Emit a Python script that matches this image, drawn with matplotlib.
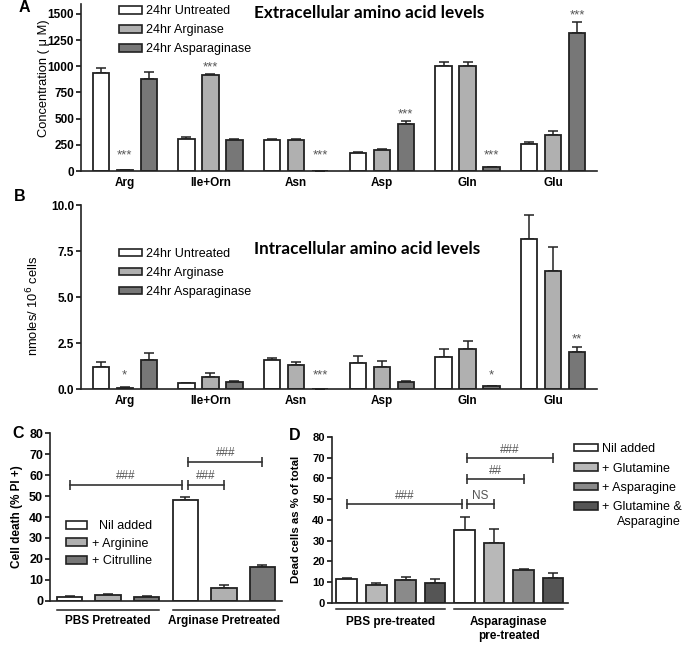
import numpy as np
import matplotlib
matplotlib.use("Agg")
import matplotlib.pyplot as plt
import matplotlib.transforms as mtransforms
from matplotlib.patches import Patch

plt.rcParams['font.family'] = ['Liberation Sans', 'DejaVu Sans']

# Panel A / B - amino acids
amino_acids = ['Arg', 'Ile+Orn', 'Asn', 'Asp', 'Gln', 'Glu']
ab_series = ['24hr Untreated', '24hr Arginase', '24hr Asparaginase']

a_untreated = [940, 310, 295, 175, 1000, 255]
a_untreated_err = [45, 15, 10, 5, 40, 22]
a_arginase = [5, 920, 300, 205, 1005, 345]
a_arginase_err = [0, 5, 3, 5, 38, 33]
a_asparaginase = [880, 295, 0, 445, 35, 1320]
a_asparaginase_err = [65, 15, 0, 35, 5, 108]
a_stars = {(0, 1): '***', (1, 1): '***', (2, 2): '***', (3, 2): '***', (4, 2): '***', (5, 2): '***'}

b_untreated = [1.2, 0.3, 1.55, 1.4, 1.75, 8.15]
b_untreated_err = [0.25, 0.05, 0.12, 0.4, 0.42, 1.3]
b_arginase = [0.08, 0.65, 1.28, 1.2, 2.2, 6.4]
b_arginase_err = [0.03, 0.2, 0.19, 0.34, 0.42, 1.3]
b_asparaginase = [1.58, 0.38, 0.02, 0.38, 0.16, 2.0]
b_asparaginase_err = [0.38, 0.08, 0.0, 0.04, 0.03, 0.3]
b_stars = {(0, 1): '*', (2, 2): '***', (4, 2): '*', (5, 2): '**'}

# Panel C - cell death
c_groups = ['PBS Pretreated', 'Arginase Pretreated']
c_series = ['  Nil added', '+ Arginine', '+ Citrulline']
c_nil = [2.0, 48.3]
c_nil_err = [0.3, 1.2]
c_arginine = [2.7, 6.3]
c_arginine_err = [0.3, 1.0]
c_citrulline = [2.0, 16.1]
c_citrulline_err = [0.2, 1.1]
c_brackets = [(0, 3, 55.5, '###'), (3, 4, 55.5, '###'), (3, 5, 66.5, '###')]

# Panel D - dead cells
d_groups = ['PBS pre-treated', 'Asparaginase\npre-treated']
d_series = ['Nil added', '+ Glutamine', '+ Asparagine', '+ Glutamine &']
d_nil = [11.5, 35.1]
d_nil_err = [0.2, 6.3]
d_glutamine = [8.7, 28.8]
d_glutamine_err = [0.8, 6.8]
d_asparagine = [11.0, 16.0]
d_asparagine_err = [1.5, 0.3]
d_both = [9.5, 11.8]
d_both_err = [1.8, 2.7]
d_brackets = [(0, 4, 47.5, '###'), (4, 5, 47.5, 'NS'), (4, 6, 59.7, '##'), (4, 7, 69.9, '###')]

W, H = 685, 645
fig = plt.figure(figsize=(W / 100, H / 100), dpi=100)


def px_axes(l, t, r, b):
    return fig.add_axes([l / W, 1 - b / H, (r - l) / W, (b - t) / H])


def style_axis(ax, tick_size):
    for s in ['top', 'right']:
        ax.spines[s].set_visible(False)
    for s in ['left', 'bottom']:
        ax.spines[s].set_linewidth(1.2)
        ax.spines[s].set_color('#222222')
    ax.tick_params(axis='y', direction='out', length=3.5, width=1.1, labelsize=tick_size, pad=1.5)
    ax.tick_params(axis='x', length=0)
    for lab in ax.get_yticklabels():
        lab.set_fontweight('bold')


ab_colors = ['white', '#b0b0b0', '#777777']


def amino_panel(ax, vals, errs, stars, ymax, offset, min_y):
    x = np.arange(len(amino_acids))
    for i, (v, e) in enumerate(zip(vals, errs)):
        pos = x + (i - 1) * 0.28
        ax.bar(pos, v, width=0.19, color=ab_colors[i], edgecolor='#222222', linewidth=1.3, zorder=2)
        ax.errorbar(pos, v, yerr=[np.zeros(len(e)), e], fmt='none', ecolor='#222222',
                    elinewidth=1.1, capsize=3.5, capthick=1.1, zorder=1)
    for (g, s), lab in stars.items():
        top = vals[s][g] + errs[s][g]
        ax.text(x[g] + (s - 1) * 0.28, max(top + offset, min_y), lab, ha='center', va='center',
                fontsize=9.5, color='#555555')
    ax.set_xlim(-0.51, len(amino_acids) - 0.49)
    ax.set_ylim(0, ymax)
    ax.set_xticks(x, amino_acids, fontsize=8.5, fontweight='bold')
    ax.tick_params(axis='x', pad=4)


# ---- A
axA = px_axes(81, 3.5, 597, 171)
amino_panel(axA, [a_untreated, a_arginase, a_asparaginase],
            [a_untreated_err, a_arginase_err, a_asparaginase_err], a_stars, 1600, 60, 150)
axA.set_yticks([0, 250, 500, 750, 1000, 1250, 1500])
style_axis(axA, 8.5)
axA.set_ylabel('Concentration ( \u03bc M)', fontsize=9.3)
axA.yaxis.set_label_coords(-31 / 516, 0.555)

# ---- B
axB = px_axes(81, 205, 597, 389)
amino_panel(axB, [b_untreated, b_arginase, b_asparaginase],
            [b_untreated_err, b_arginase_err, b_asparaginase_err], b_stars, 10, 0.4, 0.75)
axB.set_yticks([0, 2.5, 5, 7.5, 10])
axB.set_yticklabels(['0.0', '2.5', '5.0', '7.5', '10.0'])
style_axis(axB, 8.5)
axB.set_ylabel('nmoles/ 10$^{6}$ cells', fontsize=9.3)
axB.yaxis.set_label_coords(-40 / 516, 0.45)

handles_ab = [Patch(facecolor=c, edgecolor='#222222', linewidth=1.2) for c in ab_colors]
for ax, top in [(axA, 5.5), (axB, 248)]:
    fig.legend(handles_ab, ab_series, loc='upper left', bbox_to_anchor=(119 / W, 1 - top / H),
               frameon=False, fontsize=9, borderpad=0, handlelength=1.85, handleheight=0.55,
               handletextpad=0.3, labelspacing=0.55, borderaxespad=0)

fig.text(254 / W, 1 - 13 / H, 'Extracellular amino acid levels', family='Lato', fontweight='bold',
         fontsize=12.3, va='center', ha='left')
fig.text(254 / W, 1 - 249 / H, 'Intracellular amino acid levels', family='Lato', fontweight='bold',
         fontsize=12.3, va='center', ha='left')


def treatment_panel(ax, vals, errs, colors, width, groups, brackets, label_y, line_y):
    n = len(vals)
    for s, (v, e) in enumerate(zip(vals, errs)):
        pos = np.arange(len(groups)) * n + s
        ax.bar(pos, v, width=width, color=colors[s], edgecolor='#222222', linewidth=1.3, zorder=2)
        ax.errorbar(pos, v, yerr=[np.zeros(len(e)), e], fmt='none', ecolor='#222222',
                    elinewidth=1.1, capsize=3.5, capthick=1.1, zorder=1)
    split = n
    for i, j, h, lab in brackets:
        x0 = i + (0.08 if i == split else 0)
        x1 = j - (0.08 if j == split else 0)
        ax.plot([x0, x1], [h, h], color='#333333', lw=1.2)
        ax.plot([x0, x1], [h, h], ls='none', marker='|', ms=7, mew=1.2, color='#333333')
        ax.text((x0 + x1) / 2, h + 1.0, lab, ha='center', va='bottom', fontsize=8.5, color='#555555')
    ax.set_xlim(-0.51, len(groups) * n - 0.49)
    ax.set_ylim(0, 80)
    ax.set_yticks(range(0, 81, 10))
    ax.set_xticks([])
    trans = mtransforms.blended_transform_factory(ax.transData, ax.transAxes)
    for g, name in enumerate(groups):
        a0 = g * n - width / 2
        a1 = g * n + n - 1 + width / 2
        ax.plot([a0, a1], [line_y, line_y], color='#222222', lw=1.1, transform=trans, clip_on=False)
        ax.text((a0 + a1) / 2, label_y, name, transform=trans, ha='center', va='top',
                fontsize=8.5, fontweight='bold', linespacing=1.25)


# ---- C
c_colors = ['white', '#b0b0b0', '#777777']
axC = px_axes(50, 433.3, 282, 600.7)
treatment_panel(axC, [c_nil, c_arginine, c_citrulline], [c_nil_err, c_arginine_err, c_citrulline_err],
                c_colors, 0.66, c_groups, c_brackets, -0.085, -0.056)
style_axis(axC, 9)
axC.set_ylabel('Cell death (% PI +)', fontsize=8.5, fontweight='bold')
axC.yaxis.set_label_coords(-27 / 232, 0.5)
fig.legend([Patch(facecolor=c, edgecolor='#222222', linewidth=1.2) for c in c_colors], c_series,
           loc='upper left', bbox_to_anchor=(66 / W, 1 - 520 / H), frameon=False, fontsize=9,
           borderpad=0, handlelength=1.7, handleheight=0.6, handletextpad=0.4, labelspacing=0.45,
           borderaxespad=0)

# ---- D
d_colors = ['white', '#b8b8b8', '#8a8a8a', '#555555']
axD = px_axes(331.7, 437, 568, 602.7)
treatment_panel(axD, [d_nil, d_glutamine, d_asparagine, d_both],
                [d_nil_err, d_glutamine_err, d_asparagine_err, d_both_err],
                d_colors, 0.7, d_groups, d_brackets, -0.08, -0.038)
style_axis(axD, 8)
axD.set_ylabel('Dead cells as % of total', fontsize=8.2, fontweight='bold')
axD.yaxis.set_label_coords(-30.5 / 236, 0.5)
fig.legend([Patch(facecolor=c, edgecolor='#222222', linewidth=1.2) for c in d_colors], d_series,
           loc='upper left', bbox_to_anchor=(574 / W, 1 - 443 / H), frameon=False, fontsize=9,
           borderpad=0, handlelength=1.9, handleheight=0.55, handletextpad=0.35, labelspacing=0.6,
           borderaxespad=0)
fig.text(617 / W, 1 - 522 / H, 'Asparagine', fontsize=9, ha='left', va='center')

for lab, x, y in [('A', 24, 8), ('B', 20, 196), ('C', 18, 433), ('D', 295, 436)]:
    fig.text(x / W, 1 - y / H, lab, fontsize=11.5, fontweight='bold', ha='center', va='center')

fig.savefig('out.png', dpi=100)
